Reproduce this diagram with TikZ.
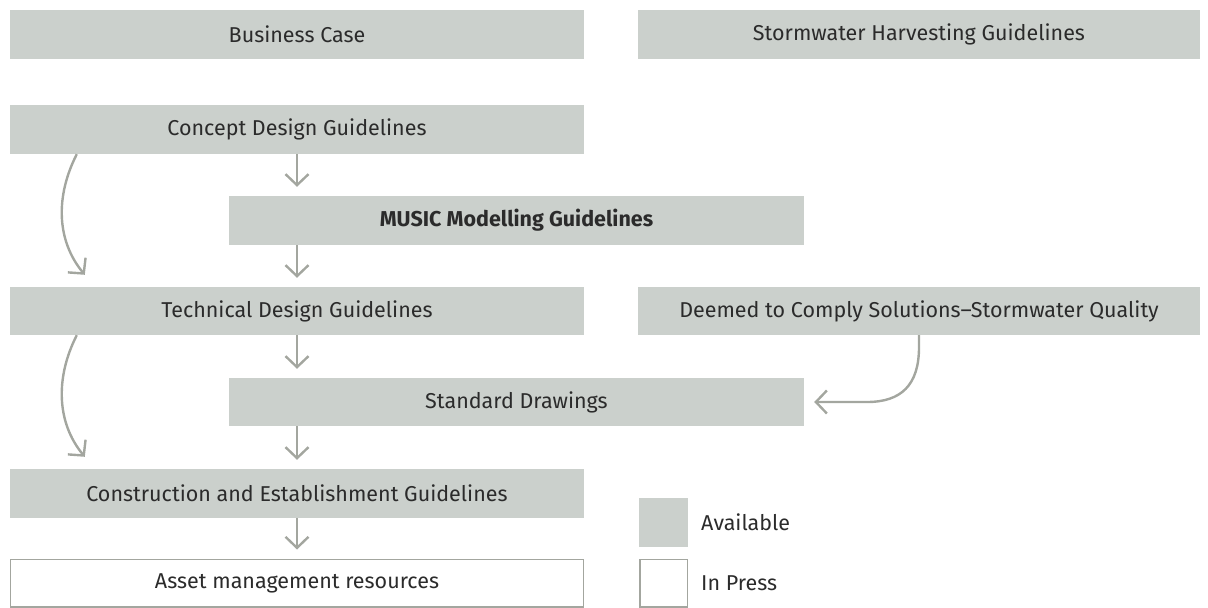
\documentclass[tikz,border=0pt]{standalone}
\usepackage{fontspec}
\setmainfont{Fira Sans}
\usetikzlibrary{arrows.meta,calc}
\definecolor{boxgray}{HTML}{CBD0CC}
\definecolor{arrgray}{HTML}{A3A69F}
\definecolor{txt}{HTML}{2B2B2B}
\tikzset{
  stage/.style={rectangle, fill=boxgray, minimum height=49bp, inner sep=0pt, text=txt, font=\fontsize{21.5bp}{24bp}\selectfont},
  wide/.style={minimum width=574bp},
  pressbox/.style={rectangle, fill=white, draw=arrgray, line width=1.5bp, minimum height=47.5bp, minimum width=572.5bp, inner sep=0pt, text=txt, font=\fontsize{21.5bp}{24bp}\selectfont},
  arr/.style={draw=arrgray, line width=2.4bp, -{Straight Barb[length=11bp,width=23bp,line width=2.4bp]}},
  legtext/.style={anchor=west, inner sep=0pt, text=txt, font=\fontsize{21.5bp}{24bp}\selectfont}
}
\begin{document}
\begin{tikzpicture}[x=1bp,y=-1bp]
\useasboundingbox (0,0) rectangle (1208,608);
\node[stage,wide] (business) at (297,34.5) {Business Case};
\node[stage,minimum width=562bp] (storm) at (919,34.5) {Stormwater Harvesting Guidelines};
\node[stage,wide] (concept) at (297,129.5) {Concept Design Guidelines};
\node[stage,minimum width=575bp] (music) at (516.5,220.5) {\bfseries MUSIC Modelling Guidelines};
\node[stage,wide,minimum height=48bp] (technical) at (297,311) {Technical Design Guidelines};
\node[stage,minimum width=562bp,minimum height=48bp] (deemed) at (919,311) {Deemed to Comply Solutions–Stormwater Quality};
\node[stage,minimum width=575bp,minimum height=48bp] (standard) at (516.5,402) {Standard Drawings};
\node[stage,wide] (construction) at (297,493.5) {Construction and Establishment Guidelines};
\node[pressbox] (asset) at (297,583) {Asset management resources};
\node[stage,minimum width=49bp,minimum height=49bp] (legavail) at (663.5,522.5) {};
\node[pressbox,minimum width=47.5bp,minimum height=47.5bp] (legpress) at (663.5,583) {};
\node[legtext] (tavail) at (701,522) {Available};
\node[legtext] (tpress) at (701,583) {In Press};
% straight arrows
\draw[arr] (concept.south) -- ([yshift=9bp]concept.south |- music.north);
\draw[arr] (concept.south |- music.south) -- ([yshift=9bp]technical.north);
\draw[arr] (technical.south) -- ([yshift=9bp]technical.south |- standard.north);
\draw[arr] (technical.south |- standard.south) -- ([yshift=9bp]construction.north);
\draw[arr] (construction.south) -- ([yshift=9bp]asset.north);
% curved side arrows
\coordinate (c1) at ($(concept.south west)+(67,0)$);
\coordinate (c1e) at ($(technical.north west)+(75,-12)$);
\draw[arr] (c1) .. controls ($(c1)+(-21,41)$) and ($(c1e)+(-29,-35)$) .. (c1e);
\coordinate (c2) at ($(technical.south west)+(67,0)$);
\coordinate (c2e) at ($(construction.north west)+(75,-12)$);
\draw[arr] (c2) .. controls ($(c2)+(-21,41)$) and ($(c2e)+(-29,-35)$) .. (c2e);
% deemed to standard
\coordinate (d1) at ($(standard.east)+(10,0)$);
\draw[arr] (deemed.south) -- ++(0,12) .. controls ($(deemed.south)+(0,50)$) and ($(deemed.south |- standard.east)+(-18,0)$) .. ($(deemed.south |- standard.east)+(-52,0)$) -- (d1);
\end{tikzpicture}
\end{document}
